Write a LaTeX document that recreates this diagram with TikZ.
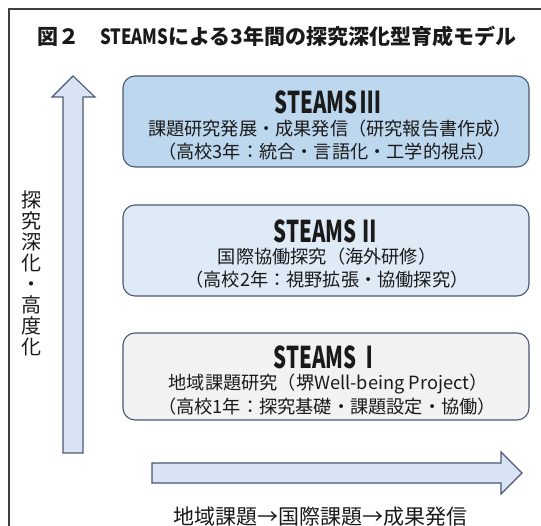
\documentclass[tikz,border=0pt]{standalone}
\usepackage{fontspec}
\setmainfont{Noto Sans CJK JP}
\definecolor{frameC}{HTML}{3F3F3F}
\definecolor{edgeC}{HTML}{4A5874}
\definecolor{fillA}{HTML}{F2F2F2}
\definecolor{fillB}{HTML}{DEEBF7}
\definecolor{fillC}{HTML}{BDD7EE}
\definecolor{arrowF}{HTML}{DAE3F3}
\definecolor{textC}{HTML}{1A1A1A}
\newcommand{\cond}[2]{\scalebox{#1}[1]{#2}}
\tikzset{
  stagebox/.style={draw=edgeC, line width=1.1pt, rounded corners=12pt, minimum width=406pt, inner sep=0pt},
  headtxt/.style={font=\fontsize{30}{30}\selectfont\bfseries, text=textC, inner sep=0pt},
  subtxt/.style={font=\fontsize{18.2}{18}\selectfont, text=textC, inner sep=0pt},
  blockarrow/.style={draw=edgeC, fill=arrowF, line width=1.1pt, line join=miter},
  labeltxt/.style={font=\fontsize{20}{21}\selectfont, text=textC, inner sep=0pt},
}
\begin{document}
\begin{tikzpicture}[x=1pt,y=-1pt]
\useasboundingbox (0,0) rectangle (541,526);
\fill[white] (0,0) rectangle (541,526);
% frame
\draw[frameC, line width=1.4pt] (9,526) -- (9,9) -- (541,9);
% title
\node[font=\fontsize{21}{21}\selectfont\bfseries, text=textC, anchor=west, inner sep=0pt] (title) at (37,36) {図２　\cond{0.8}{STEAMS}による3年間の探究深化型育成モデル};
% stage boxes
\node[stagebox, fill=fillC, minimum height=91pt] (s3) at (326,121.5) {};
\node[stagebox, fill=fillB, minimum height=91pt] (s2) at (326,250.5) {};
\node[stagebox, fill=fillA, minimum height=87pt] (s1) at (326,376.5) {};
% texts
\node[headtxt] (s3h) at (328,102) {\cond{0.68}{STEAMS\,Ⅲ}};
\node[subtxt] (s3a) at (330,129) {課題研究発展・成果発信（研究報告書作成）};
\node[subtxt] (s3b) at (327,152) {（高校3年：統合・言語化・工学的視点）};
\node[headtxt] (s2h) at (327,231) {\cond{0.68}{STEAMS\,Ⅱ}};
\node[subtxt] (s2a) at (327,257) {国際協働探究（海外研修）};
\node[subtxt] (s2b) at (327,280) {（高校2年：視野拡張・協働探究）};
\node[headtxt] (s1h) at (327,357) {\cond{0.68}{STEAMS\,Ⅰ}};
\node[subtxt] (s1a) at (328,384) {地域課題研究（堺Well-being Project）};
\node[subtxt] (s1b) at (327,407) {（高校1年：探究基礎・課題設定・協働）};
% block arrows
\draw[blockarrow] (63,453) -- (63,97) -- (52,97) -- (73,76) -- (95,97) -- (83,97) -- (83,453) -- cycle;
\draw[blockarrow] (152,463) -- (501,463) -- (501,452) -- (522,473) -- (501,494) -- (501,483) -- (152,483) -- cycle;
% labels
\node[labeltxt, align=center] (vlab) at (31,273) {探\\究\\深\\化\\・\\高\\度\\化};
\node[labeltxt, font=\fontsize{21}{21}\selectfont] (hlab) at (320,517) {地域課題→国際課題→成果発信};
\end{tikzpicture}
\end{document}
